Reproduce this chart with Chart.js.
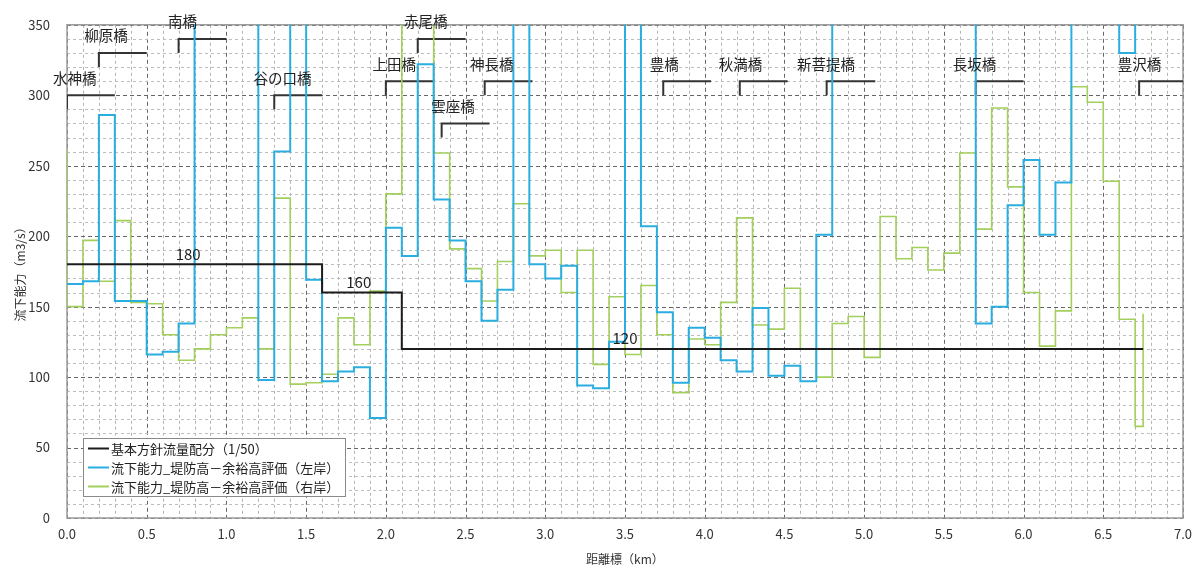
<!DOCTYPE html>
<html>
<head>
<meta charset="utf-8">
<script src="https://cdn.jsdelivr.net/npm/chart.js@4.4.1/dist/chart.umd.min.js"></script>
<style>
  html, body { margin: 0; padding: 0; background: #fff; }
  #wrap { width: 1200px; height: 569px; position: relative; }
</style>
</head>
<body>
<div id="wrap"><canvas id="c" width="1200" height="569"></canvas></div>
<script>
// 区間の始点 (km)
const sectionStart = [
  0.0, 0.1, 0.2, 0.3, 0.4, 0.5, 0.6, 0.7, 0.8, 0.9,
  1.0, 1.1, 1.2, 1.3, 1.4, 1.5, 1.6, 1.7, 1.8, 1.9,
  2.0, 2.1, 2.2, 2.3, 2.4, 2.5, 2.6, 2.7, 2.8, 2.9,
  3.0, 3.1, 3.2, 3.3, 3.4, 3.5, 3.6, 3.7, 3.8, 3.9,
  4.0, 4.1, 4.2, 4.3, 4.4, 4.5, 4.6, 4.7, 4.8, 4.9,
  5.0, 5.1, 5.2, 5.3, 5.4, 5.5, 5.6, 5.7, 5.8, 5.9,
  6.0, 6.1, 6.2, 6.3, 6.4, 6.5, 6.6, 6.7
];
const sectionEnd = 6.75;

// 流下能力_堤防高－余裕高評価（左岸） m3/s
const leftBank = [
  166, 168, 286, 154, 154, 116, 118, 138, 400, 400,
  400, 400,  98, 260, 400, 169,  97, 104, 107,  71,
  206, 186, 322, 226, 197, 168, 140, 162, 400, 180,
  170, 179,  94,  92, 125, 400, 207, 146,  96, 135,
  128, 112, 104, 149, 101, 108,  97, 201, 400, 400,
  400, 400, 400, 400, 400, 400, 400, 138, 150, 222,
  254, 201, 238, 400, 400, 400, 330, 400
];

// 流下能力_堤防高－余裕高評価（右岸） m3/s
const rightBank = [
  150, 197, 168, 211, 153, 152, 130, 112, 120, 130,
  135, 142, 120, 227,  95,  96, 102, 142, 123, 161,
  230, 400, 400, 259, 191, 177, 154, 182, 223, 186,
  190, 160, 190, 109, 157, 116, 165, 130,  89, 127,
  123, 153, 213, 137, 134, 163, 120, 100, 138, 143,
  114, 214, 184, 192, 176, 188, 259, 205, 291, 235,
  160, 122, 147, 306, 295, 239, 141,  65
];
const rightBankUpstream = 262;
const rightBankDownstream = 145;

// 基本方針流量配分（1/50）
const planBreaks = [0.0, 1.6, 2.1, 6.75];
const planFlow = [180, 160, 120];
const planFlowLabelAt = [0.76, 1.83, 3.5];

// 橋梁
const bridgeNames = ['水神橋', '柳原橋', '南橋', '谷の口橋', '上田橋', '赤尾橋', '雲座橋', '神長橋', '豊橋', '秋満橋', '新菩提橋', '長坂橋', '豊沢橋'];
const bridgeFrom  = [0.0, 0.2, 0.7, 1.3, 2.0, 2.2, 2.35, 2.62, 3.74, 4.22, 4.765, 5.7, 6.725];
const bridgeTo    = [0.3, 0.5, 1.0, 1.6, 2.3, 2.5, 2.65, 2.92, 4.04, 4.52, 5.07, 6.0, 7.0];
const bridgeLevel = [300, 330, 340, 300, 310, 340, 280, 310, 310, 310, 310, 310, 310];
const bridgeLabelAt = [0.049, 0.244, 0.725, 1.352, 2.052, 2.25, 2.421, 2.664, 3.746, 4.224, 4.761, 5.693, 6.727];

const seriesNames = ['基本方針流量配分（1/50）', '流下能力_堤防高－余裕高評価（左岸）', '流下能力_堤防高－余裕高評価（右岸）'];
const seriesColors = ['#1c1c1c', '#2aaee0', '#a3cf5c'];

const FONT = "'Noto Sans CJK JP', 'Noto Sans', sans-serif";

const planPoints = planBreaks.map((x, i) => ({ x, y: planFlow[Math.min(i, planFlow.length - 1)] }));
const leftPoints = sectionStart.map((x, i) => ({ x, y: leftBank[i] }))
  .concat([{ x: sectionEnd, y: leftBank[leftBank.length - 1] }]);
const rightPoints = [{ x: sectionStart[0], y: rightBankUpstream }]
  .concat(sectionStart.map((x, i) => ({ x, y: rightBank[i] })))
  .concat([{ x: sectionEnd, y: rightBankDownstream }]);

const datasets = [
  { label: seriesNames[0], data: planPoints, borderColor: seriesColors[0], borderWidth: 2, stepped: true },
  { label: seriesNames[1], data: leftPoints, borderColor: seriesColors[1], borderWidth: 2, stepped: true },
  { label: seriesNames[2], data: rightPoints, borderColor: seriesColors[2], borderWidth: 1.6, stepped: true }
];
bridgeNames.forEach((name, i) => {
  datasets.push({
    label: name,
    data: [
      { x: bridgeFrom[i], y: bridgeLevel[i] - 10 },
      { x: bridgeFrom[i], y: bridgeLevel[i] },
      { x: bridgeTo[i], y: bridgeLevel[i] }
    ],
    borderColor: '#333',
    borderWidth: 2,
    stepped: false
  });
});

// 補助目盛線・主目盛線
const gridPlugin = {
  id: 'grid',
  beforeDatasetsDraw(chart) {
    const { ctx, chartArea: a, scales: { x, y } } = chart;
    ctx.save();
    ctx.lineWidth = 1;
    for (let i = 0; i <= 70; i++) {
      const px = Math.round(x.getPixelForValue(i / 10)) + 0.5;
      const major = i % 5 === 0;
      ctx.strokeStyle = major ? '#666' : '#b4b4b4';
      ctx.setLineDash(major ? [4, 3] : [3, 3]);
      ctx.beginPath(); ctx.moveTo(px, a.top); ctx.lineTo(px, a.bottom); ctx.stroke();
    }
    for (let v = 0; v <= 350; v += 10) {
      const py = Math.round(y.getPixelForValue(v)) + 0.5;
      const major = v % 50 === 0;
      ctx.strokeStyle = major ? '#666' : '#bdbdbd';
      ctx.setLineDash(major ? [4, 3] : [3, 3]);
      ctx.beginPath(); ctx.moveTo(a.left, py); ctx.lineTo(a.right, py); ctx.stroke();
    }
    ctx.setLineDash([]);
    ctx.strokeStyle = '#9a9a9a';
    ctx.lineWidth = 1.5;
    ctx.strokeRect(a.left, a.top, a.right - a.left, a.bottom - a.top);
    ctx.restore();
  }
};

// 橋梁名・流量値・凡例
const labelPlugin = {
  id: 'labels',
  afterDatasetsDraw(chart) {
    const { ctx, chartArea: a, scales: { x, y } } = chart;
    ctx.save();
    ctx.fillStyle = '#222';
    ctx.font = '14.5px ' + FONT;
    ctx.textAlign = 'center';
    ctx.textBaseline = 'middle';
    bridgeNames.forEach((name, i) => {
      ctx.fillText(name, x.getPixelForValue(bridgeLabelAt[i]), y.getPixelForValue(bridgeLevel[i]) - 17);
    });

    ctx.font = '15px ' + FONT;
    ctx.textBaseline = 'bottom';
    planFlow.forEach((v, i) => {
      ctx.fillText(String(v), x.getPixelForValue(planFlowLabelAt[i]), y.getPixelForValue(v) - 3);
    });

    // 凡例
    const lx = a.left + 16, ly = a.bottom - 80, lw = 262, lh = 58;
    ctx.fillStyle = '#fff';
    ctx.fillRect(lx, ly, lw, lh);
    ctx.strokeStyle = '#8a8a8a';
    ctx.lineWidth = 1;
    ctx.strokeRect(lx + 0.5, ly + 0.5, lw, lh);
    ctx.font = '13px ' + FONT;
    ctx.textAlign = 'left';
    ctx.textBaseline = 'middle';
    seriesNames.forEach((name, i) => {
      const ry = ly + 10.5 + i * 19;
      ctx.strokeStyle = seriesColors[i];
      ctx.lineWidth = 2;
      ctx.beginPath(); ctx.moveTo(lx + 5, ry); ctx.lineTo(lx + 26, ry); ctx.stroke();
      ctx.fillStyle = '#222';
      ctx.fillText(name, lx + 28, ry + 0.5);
    });
    ctx.restore();
  }
};

new Chart(document.getElementById('c'), {
  type: 'line',
  data: { datasets },
  plugins: [gridPlugin, labelPlugin],
  options: {
    responsive: false,
    animation: false,
    devicePixelRatio: 1,
    layout: { padding: { left: 0, right: 13, top: 22, bottom: 0 } },
    elements: { point: { radius: 0, hoverRadius: 0 }, line: { tension: 0 } },
    plugins: { legend: { display: false }, tooltip: { enabled: false } },
    scales: {
      x: {
        type: 'linear', min: 0, max: 7,
        grid: { display: false, drawTicks: false },
        border: { display: false },
        ticks: {
          stepSize: 0.5, autoSkip: false, maxRotation: 0, padding: 8,
          color: '#333', font: { family: FONT, size: 13 },
          callback: v => Number(v).toFixed(1)
        },
        title: { display: true, text: '距離標（km）', color: '#333', font: { family: FONT, size: 12 }, padding: { top: 0, bottom: 2 } },
        afterFit(s) { s.height = 51; }
      },
      y: {
        type: 'linear', min: 0, max: 350,
        grid: { display: false, drawTicks: false },
        border: { display: false },
        ticks: { stepSize: 50, padding: 17, color: '#333', font: { family: FONT, size: 13 } },
        title: { display: true, text: '流下能力（m3/s）', color: '#333', font: { family: FONT, size: 12 }, padding: { top: 13, bottom: 0 } },
        afterFit(s) { s.width = 67; }
      }
    }
  }
});
</script>
</body>
</html>
